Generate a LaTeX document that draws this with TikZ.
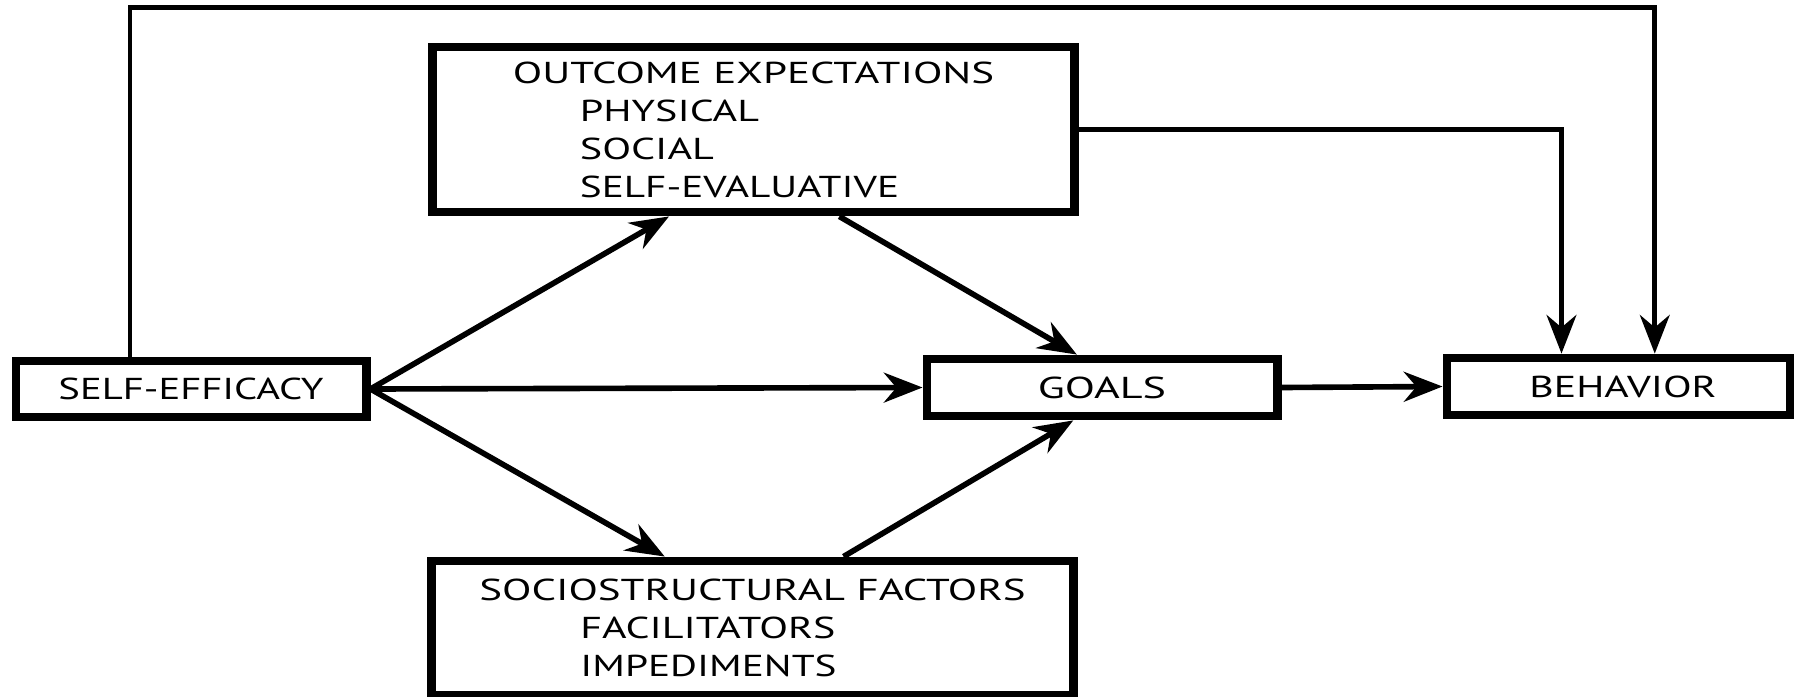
\documentclass[tikz,border=0pt]{standalone}
\usepackage{fontspec}
\usepackage{graphicx}
\setmainfont{PT Sans}
\usetikzlibrary{arrows.meta,calc}
\newcommand\fw[2]{\resizebox{#1}{\height}{#2}}
\begin{document}
\begin{tikzpicture}[x=0.01cm,y=-0.01cm,
  box/.style={draw, line width=2.5pt, inner sep=0pt, font=\fontsize{8.6}{10.8}\selectfont},
  conn/.style={line width=1.6pt, -{Stealth[length=11pt,width=8.5pt]}},
  thinconn/.style={conn, line width=1.3pt},
  ]
\useasboundingbox (0,0) rectangle (1794,697);
\node[box, minimum width=3.5cm, minimum height=0.56cm] (se) at (191,389) {\fw{2.65cm}{SELF-EFFICACY}};
\node[box, minimum width=3.5cm, minimum height=0.57cm] (goals) at (1102,387.5) {\fw{1.28cm}{GOALS}};
\node[box, minimum width=3.43cm, minimum height=0.57cm] (beh) at (1618.5,386.5) {\hspace*{0.09cm}\fw{1.87cm}{BEHAVIOR}};
\node[box, minimum width=6.41cm, minimum height=1.65cm, align=left] (oe) at (753.5,129.5)
  {\fw{4.81cm}{OUTCOME EXPECTATIONS}\\\hspace*{0.67cm}\fw{1.79cm}{PHYSICAL}\\\hspace*{0.67cm}\fw{1.34cm}{SOCIAL}\\\hspace*{0.67cm}\fw{3.19cm}{SELF-EVALUATIVE}};
\node[box, minimum width=6.41cm, minimum height=1.34cm, align=left] (ss) at (752.5,628)
  {\fw{5.46cm}{SOCIOSTRUCTURAL FACTORS}\\\hspace*{1.01cm}\fw{2.55cm}{FACILITATORS}\\\hspace*{1.01cm}\fw{2.56cm}{IMPEDIMENTS}};
\coordinate (top) at (900,7.5);
\draw[conn] (se.east) -- (goals.west);
\draw[conn] (se.east) -- ($(oe.south west)!0.37!(oe.south east)$);
\draw[conn] (se.east) -- ($(ss.north west)!0.365!(ss.north east)$);
\draw[conn] ($(oe.south west)!0.632!(oe.south east)$) -- ($(goals.north west)!0.43!(goals.north east)$);
\draw[conn] ($(ss.north west)!0.64!(ss.north east)$) -- ($(goals.south west)!0.42!(goals.south east)$);
\draw[conn] (goals.east) -- (beh.west);
\draw[thinconn] (oe.east) -| ($(beh.north west)!0.338!(beh.north east)$);
\draw[thinconn] ($(se.north west)!0.33!(se.north east)$) |- (top) -| ($(beh.north west)!0.603!(beh.north east)$);
\end{tikzpicture}
\end{document}
